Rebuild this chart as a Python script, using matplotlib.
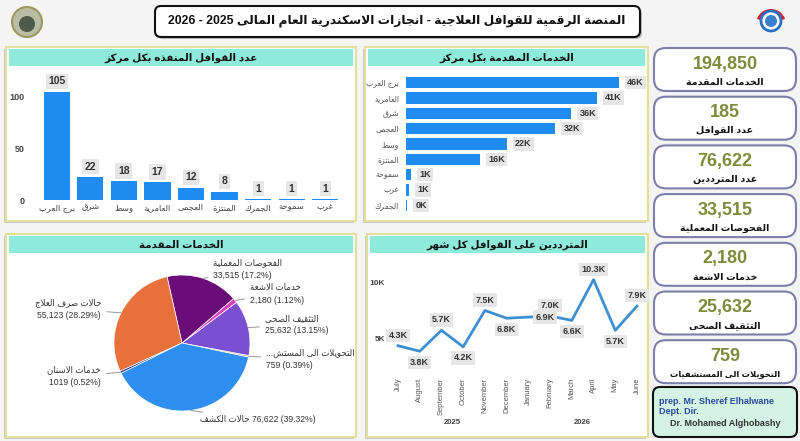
import re
import matplotlib
matplotlib.use('Agg')
import matplotlib.pyplot as plt
from matplotlib.patches import FancyBboxPatch, Rectangle, Circle, Wedge
import numpy as np

plt.rcParams['font.family'] = ['Liberation Sans', 'DejaVu Sans']

# ---------------- data ----------------
title = 'المنصة الرقمية للقوافل العلاجية - انجازات الاسكندرية العام المالى 2025 - 2026'

convoy_title = 'عدد القوافل المنفذه بكل مركز'
convoy_centers = ['برج العرب', 'شرق', 'وسط', 'العامرية', 'العجمى', 'المنتزة', 'الجمرك', 'سموحة', 'غرب']
convoy_counts = [105, 22, 18, 17, 12, 8, 1, 1, 1]

services_title = 'الخدمات المقدمة بكل مركز'
service_centers = ['برج العرب', 'العامرية', 'شرق', 'العجمى', 'وسط', 'المنتزة', 'سموحة', 'غرب', 'الجمرك']
service_k = [46.0, 41.2, 35.7, 32.2, 21.8, 16.0, 1.0, 0.7, 0.25]

pie_title = 'الخدمات المقدمة'
pie_names = ['التحويلات الى المستش', 'التثقيف الصحى', 'خدمات الاشعة', 'الفحوصات المعملية',
             'حالات صرف العلاج', 'خدمات الاسنان', 'حالات الكشف']
pie_values = [759, 25632, 2180, 33515, 55123, 1019, 76622]
pie_value_text = ['759', '25,632', '2,180', '33,515', '55,123', '1019', '76,622']
pie_pct_text = ['0.39%', '13.15%', '1.12%', '17.2%', '28.29%', '0.52%', '39.32%']
pie_colors = ['#c9b48a', '#7a4fd0', '#e03fc0', '#6a0d78', '#e8703a', '#1f2f8a', '#2f8ff0']

line_title = 'المترددين على القوافل كل شهر'
months = ['July', 'August', 'September', 'October', 'November', 'December',
          'January', 'February', 'March', 'April', 'May', 'June']
visitors_k = [4.3, 3.8, 5.7, 4.2, 7.5, 6.8, 6.9, 7.0, 6.6, 10.3, 5.7, 7.9]
label_side = ['up', 'down', 'up', 'down', 'up', 'down', 'right', 'up', 'down', 'up', 'down', 'up']
years = ['2025', '2026']

kpi_values = ['194,850', '185', '76,622', '33,515', '2,180', '25,632', '759']
kpi_labels = ['الخدمات المقدمة', 'عدد القوافل', 'عدد المترددين', 'الفحوصات المعملية',
              'خدمات الاشعة', 'التثقيف الصحى', 'التحويلات الى المستشفيات']

credits = ['prep. Mr. Sheref Elhalwane', 'Dept. Dir.', 'Dr. Mohamed Alghobashy']

# ---------------- arabic shaping (no bidi engine in matplotlib) ----------------
FORMS = {}
for ch, base in zip('آأؤإاةدذرزوى', [0xFE81, 0xFE83, 0xFE85, 0xFE87, 0xFE8D, 0xFE93, 0xFEA9,
                                      0xFEAB, 0xFEAD, 0xFEAF, 0xFEED, 0xFEEF]):
    FORMS[ch] = [chr(base), chr(base + 1)]
for ch, base in zip('ئبتثجحخسشصضطظعغفقكلمنهي',
                    [0xFE89, 0xFE8F, 0xFE95, 0xFE99, 0xFE9D, 0xFEA1, 0xFEA5, 0xFEB1, 0xFEB5,
                     0xFEB9, 0xFEBD, 0xFEC1, 0xFEC5, 0xFEC9, 0xFECD, 0xFED1, 0xFED5, 0xFED9,
                     0xFEDD, 0xFEE1, 0xFEE5, 0xFEE9, 0xFEF1]):
    FORMS[ch] = [chr(base + k) for k in range(4)]
FORMS['ء'] = [chr(0xFE80)]
LAM_ALEF = {'ا': 0xFEFB, 'أ': 0xFEF7, 'إ': 0xFEF9, 'آ': 0xFEF5}


def shape(s):
    items = []
    i = 0
    while i < len(s):
        if s[i] == 'ل' and i + 1 < len(s) and s[i + 1] in LAM_ALEF:
            items.append(('LA', s[i + 1]))
            i += 2
        else:
            items.append(('C', s[i]))
            i += 1

    def joins_next(it):
        return it[0] == 'C' and it[1] in FORMS and len(FORMS[it[1]]) == 4

    def is_ar(it):
        return it[0] == 'LA' or it[1] in FORMS

    res = []
    for k, it in enumerate(items):
        p = k > 0 and joins_next(items[k - 1])
        if it[0] == 'LA':
            res.append(chr(LAM_ALEF[it[1]] + (1 if p else 0)))
            continue
        c = it[1]
        if c not in FORMS:
            res.append(c)
            continue
        f = FORMS[c]
        n = len(f) == 4 and k + 1 < len(items) and is_ar(items[k + 1])
        if p and n:
            res.append(f[3])
        elif p:
            res.append(f[1] if len(f) > 1 else f[0])
        elif n:
            res.append(f[2])
        else:
            res.append(f[0])
    return ''.join(res)


def ar(s):
    parts = re.findall(r'[0-9A-Za-z.,%]+|.', shape(s))
    return ''.join(reversed(parts))


# ---------------- figure ----------------
W, H = 800, 441
fig = plt.figure(figsize=(8, 4.41), dpi=100)
fig.patch.set_facecolor('#f4f4f4')

bg = fig.add_axes([0, 0, 1, 1], zorder=0)
bg.set_xlim(0, W)
bg.set_ylim(H, 0)
bg.axis('off')


def box(x0, y0, x1, y1):
    return [x0 / W, 1 - y1 / H, (x1 - x0) / W, (y1 - y0) / H]


def rbox(x0, y0, x1, y1, fc, ec, lw, r):
    bg.add_patch(FancyBboxPatch((x0, y0), x1 - x0, y1 - y0,
                                boxstyle=f'round,pad=0,rounding_size={r}',
                                fc=fc, ec=ec, lw=lw))


def panel(x0, y0, x1, y1, head):
    bg.add_patch(Rectangle((x0 - 2, y0 + 2), x1 - x0, y1 - y0, fc='#c8c8c8', ec='none'))
    bg.add_patch(Rectangle((x0, y0), x1 - x0, y1 - y0, fc='white', ec='#e0e09a', lw=1.5))
    bg.add_patch(Rectangle((x0 + 3, y0 + 2), x1 - x0 - 6, 17, fc='#8eeadb', ec='none'))
    bg.text((x0 + x1) / 2, y0 + 10.5, ar(head), ha='center', va='center',
            fontsize=7.5, fontweight='bold', color='#111')


# title + logos
rbox(157, 8, 642, 39, '#bbbbbb', 'none', 0, 6)
rbox(155, 6, 640, 37, 'white', '#111', 1.5, 6)
bg.text(397, 21, ar(title), ha='center', va='center', fontsize=8.8, fontweight='bold', color='#111')
bg.add_patch(Circle((27, 22), 15, fc='#b9bda5', ec='#9a9a60', lw=1.5))
bg.add_patch(Circle((27, 24), 8, fc='#4d5a4a', ec='none'))
bg.add_patch(Wedge((771, 24), 15, 200, 340, width=3, fc='#d42030', ec='none'))
bg.add_patch(Circle((771, 21), 10, fc='white', ec='#2a6fc0', lw=2))
bg.add_patch(Circle((771, 21), 6, fc='#3a7fd0', ec='none'))

panel(6, 47, 356, 221, convoy_title)
panel(365, 47, 648, 221, services_title)
panel(6, 234, 356, 437, pie_title)
panel(367, 234, 648, 437, line_title)

lbl_box = dict(boxstyle='square,pad=0.25', fc='#e6e6e6', ec='none')
blue = '#1e8cf0'

# ---- column chart ----
ax1 = fig.add_axes(box(40, 75, 342, 200), zorder=2)
ax1.patch.set_alpha(0)
x = np.arange(len(convoy_centers))
ax1.bar(x, convoy_counts, width=0.78, color=blue)
ax1.set_xlim(-0.5, len(x) - 0.5)
ax1.set_ylim(0, 121)
ax1.set_xticks(x, [ar(c) for c in convoy_centers], fontsize=6, color='#444')
ax1.set_yticks([0, 50, 100])
ax1.tick_params(axis='y', length=0, pad=11, labelsize=6.5, labelcolor='#444')
ax1.tick_params(axis='x', length=0, pad=3)
for t in ax1.get_yticklabels():
    t.set_fontweight('bold')
for s in ax1.spines.values():
    s.set_visible(False)
for xi, v in zip(x, convoy_counts):
    ax1.annotate(str(v), (xi, v), xytext=(0, 7.5), textcoords='offset points', ha='center',
                 va='center', fontsize=7.5, fontweight='bold', color='#333', bbox=lbl_box)

# ---- horizontal bar chart ----
ax2 = fig.add_axes(box(406, 75, 630, 213), zorder=2)
ax2.patch.set_alpha(0)
yy = np.arange(len(service_centers))
ax2.barh(yy, service_k, height=0.72, color=blue)
ax2.set_ylim(len(yy) - 0.5, -0.5)
ax2.set_xlim(0, 48.4)
ax2.set_yticks(yy, [ar(c) for c in service_centers], fontsize=5.5, color='#555')
ax2.set_xticks([])
ax2.tick_params(axis='y', length=0, pad=5)
for s in ax2.spines.values():
    s.set_visible(False)
for yi, v in zip(yy, service_k):
    ax2.annotate(f'{v:.0f}K', (v, yi), xytext=(6, 0), textcoords='offset points', ha='left',
                 va='center', fontsize=6.5, fontweight='bold', color='#333', bbox=lbl_box)

# ---- pie ----
ax3 = fig.add_axes(box(114, 275, 250, 411), zorder=2)
wedges, _ = ax3.pie(pie_values, colors=pie_colors, startangle=-12, counterclock=True,
                    wedgeprops=dict(edgecolor='white', linewidth=0.5))
ax3.set_xlim(-1, 1)
ax3.set_ylim(-1, 1)
# label anchors (pie radius units), same order as the wedges
label_pos = [(1.24, -0.24), (1.22, 0.27), (1.0, 0.72), (0.46, 1.09),
             (-1.19, 0.5), (-1.19, -0.49), (0.26, -1.13)]
for w, name, vt, pt, (tx, ty) in zip(wedges, pie_names, pie_value_text, pie_pct_text, label_pos):
    ang = np.deg2rad((w.theta1 + w.theta2) / 2)
    c, s = np.cos(ang), np.sin(ang)
    if name == 'حالات الكشف':
        txt = ar(name) + f' {vt} ({pt})'
    else:
        head = '...' + ar(name) if name.endswith('المستش') else ar(name)
        txt = head + '\n' + f'{vt} ({pt})'
    ax3.annotate(txt, (c, s), xytext=(tx, ty), textcoords='data',
                 ha='left' if tx > 0 else 'right', va='center', fontsize=6.2,
                 color='#333', linespacing=1.5, annotation_clip=False,
                 arrowprops=dict(arrowstyle='-', color='#999', lw=0.7, shrinkA=2, shrinkB=0))

# ---- line chart ----
ax4 = fig.add_axes(box(388, 270, 647, 375), zorder=2)
ax4.patch.set_alpha(0)
xm = np.arange(len(months))
ax4.plot(xm, visitors_k, color='#3d8fd1', lw=2)
ax4.set_xlim(-0.46, len(months) - 0.54)
ax4.set_ylim(1.64, 11.18)
ax4.set_yticks([5, 10], ['5K', '10K'])
ax4.set_xticks(xm, months, rotation=90, fontsize=5.5, color='#555')
ax4.tick_params(axis='y', length=0, pad=2, labelsize=6, labelcolor='#444')
ax4.tick_params(axis='x', length=0, pad=2)
for t in ax4.get_yticklabels():
    t.set_fontweight('bold')
for s in ax4.spines.values():
    s.set_visible(False)
offsets = {'up': (0, 7.5), 'down': (0, -8), 'right': (12, 0)}
for xi, v, side in zip(xm, visitors_k, label_side):
    ax4.annotate(f'{v:.1f}K', (xi, v), xytext=offsets[side], textcoords='offset points',
                 ha='center', va='center', fontsize=6.5, fontweight='bold', color='#333',
                 bbox=lbl_box)
for k, yr in enumerate(years):
    bg.text(398 + 21.7 * (2.5 + 6 * k), 422, yr, ha='center', va='center', fontsize=5.5,
            fontweight='bold', color='#444')

# ---- KPI cards ----
for k, (val, lab) in enumerate(zip(kpi_values, kpi_labels)):
    top = 48 + 48.7 * k
    rbox(654, top, 796, top + 43, 'white', '#7e7eaa', 1.5, 12)
    bg.text(725, top + 16, val, ha='center', va='center', fontsize=13, fontweight='bold',
            color='#7d8b3b')
    bg.text(725, top + 34, ar(lab), ha='center', va='center', fontsize=6.8 if len(lab) < 20 else 6,
            fontweight='bold', color='#111')

rbox(653, 387, 797, 437, '#d4f3e5', '#111', 1.5, 7)
bg.text(659, 402, credits[0], ha='left', va='center', fontsize=6.5, fontweight='bold', color='#2b4a9a')
bg.text(659, 411, credits[1], ha='left', va='center', fontsize=6.5, fontweight='bold', color='#2b4a9a')
bg.text(670, 423, credits[2], ha='left', va='center', fontsize=6.5, fontweight='bold', color='#333')

fig.savefig('out.png', dpi=100, facecolor=fig.get_facecolor())
